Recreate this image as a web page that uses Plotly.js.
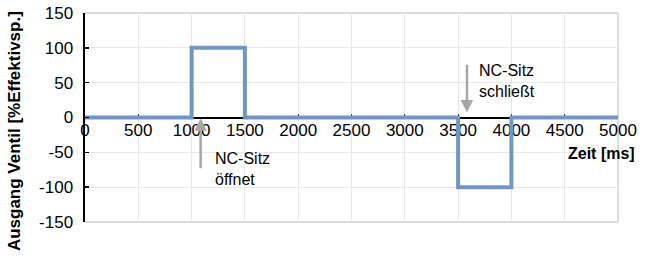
<!DOCTYPE html>
<html><head><meta charset="utf-8">
<script src="https://cdn.plot.ly/plotly-3.0.1.min.js"></script>
<style>html,body{margin:0;padding:0;background:#fff}#c{width:653px;height:262px}</style>
</head><body><div id="c"></div>
<script>
const timeMs = [0, 1000, 1000, 1500, 1500, 3500, 3500, 4000, 4000, 5000];
const outputPct = [0, 0, 100, 100, 0, 0, -100, -100, 0, 0];
const xTicks = [0, 500, 1000, 1500, 2000, 2500, 3000, 3500, 4000, 4500, 5000];
const yTicks = [-150, -100, -50, 0, 50, 100, 150];
const yTitle = 'Ausgang Ventil [%Effektivsp.]';
const xTitle = 'Zeit [ms]';
const noteOpen = 'NC-Sitz<br>öffnet';
const noteClose = 'NC-Sitz<br>schließt';

const font = 'Liberation Sans, Arial, Helvetica, sans-serif';
const grey = '#a6a6a6';

const trace = {
  x: timeMs, y: outputPct, type: 'scatter', mode: 'lines',
  line: {color: '#7196c5', width: 4}, hoverinfo: 'skip'
};

const layout = {
  width: 653, height: 262,
  margin: {l: 85, r: 35, t: 13, b: 40},
  paper_bgcolor: '#fff', plot_bgcolor: '#fff',
  showlegend: false,
  font: {family: font, size: 17, color: '#000'},
  xaxis: {
    range: [0, 5000], tickvals: xTicks, ticktext: xTicks.map(String),
    anchor: 'free', position: 0.5, layer: 'below traces',
    showline: true, linecolor: '#000', linewidth: 2.5,
    showgrid: true, gridcolor: '#e8e8e8', gridwidth: 1,
    zeroline: false, ticks: 'inside', ticklen: 3, tickcolor: '#333', tickwidth: 1,
    ticklabelstandoff: -3,
    tickfont: {family: font, size: 17, color: '#000'}
  },
  yaxis: {
    range: [-150, 150], tickvals: yTicks, ticktext: yTicks.map(String),
    showline: true, linecolor: '#000', linewidth: 2.5,
    showgrid: true, gridcolor: '#e8e8e8', gridwidth: 1,
    zeroline: false, ticks: 'inside', ticklen: 4, tickcolor: '#000', tickwidth: 1.5,
    ticklabelstandoff: 6,
    tickfont: {family: font, size: 17, color: '#000'}
  },
  shapes: [
    {type: 'line', xref: 'paper', yref: 'paper', x0: 0, x1: 1, y0: 1, y1: 1, line: {color: '#dcdcdc', width: 2}, layer: 'below'},
    {type: 'line', xref: 'paper', yref: 'paper', x0: 1, x1: 1, y0: 0, y1: 1, line: {color: '#dcdcdc', width: 2}, layer: 'below'},
    {type: 'line', xref: 'paper', yref: 'paper', x0: 0, x1: 1, y0: 0, y1: 0, line: {color: '#dcdcdc', width: 2}, layer: 'below'}
  ],
  annotations: [
    {xref: 'paper', yref: 'paper', x: 0, xshift: -71, y: 0.435, text: '<b>' + yTitle + '</b>',
     textangle: -90, showarrow: false, font: {family: font, size: 17, color: '#000'}, xanchor: 'center', yanchor: 'middle'},
    {xref: 'paper', yref: 'paper', x: 1.0356, y: 0.33, text: '<b>' + xTitle + '</b>',
     showarrow: false, font: {family: font, size: 16, color: '#000'}, xanchor: 'right', yanchor: 'middle'},
    {x: 1085, y: -1, ax: 1085, ay: -75, axref: 'x', ayref: 'y', xref: 'x', yref: 'y', text: '',
     showarrow: true, arrowhead: 2, arrowsize: 1, arrowwidth: 2.5, arrowcolor: grey},
    {x: 3583, y: 7, ax: 3583, ay: 78, axref: 'x', ayref: 'y', xref: 'x', yref: 'y', text: '',
     showarrow: true, arrowhead: 2, arrowsize: 1, arrowwidth: 2.5, arrowcolor: grey},
    {x: 1200, y: -74, xref: 'x', yref: 'y', text: noteOpen, showarrow: false, align: 'left',
     xanchor: 'left', yanchor: 'middle', font: {family: font, size: 16, color: '#000'}},
    {x: 3677, y: 51.7, xref: 'x', yref: 'y', text: noteClose, showarrow: false, align: 'left',
     xanchor: 'left', yanchor: 'middle', font: {family: font, size: 16, color: '#000'}}
  ]
};

Plotly.newPlot('c', [trace], layout, {staticPlot: true, displayModeBar: false});
</script></body></html>
